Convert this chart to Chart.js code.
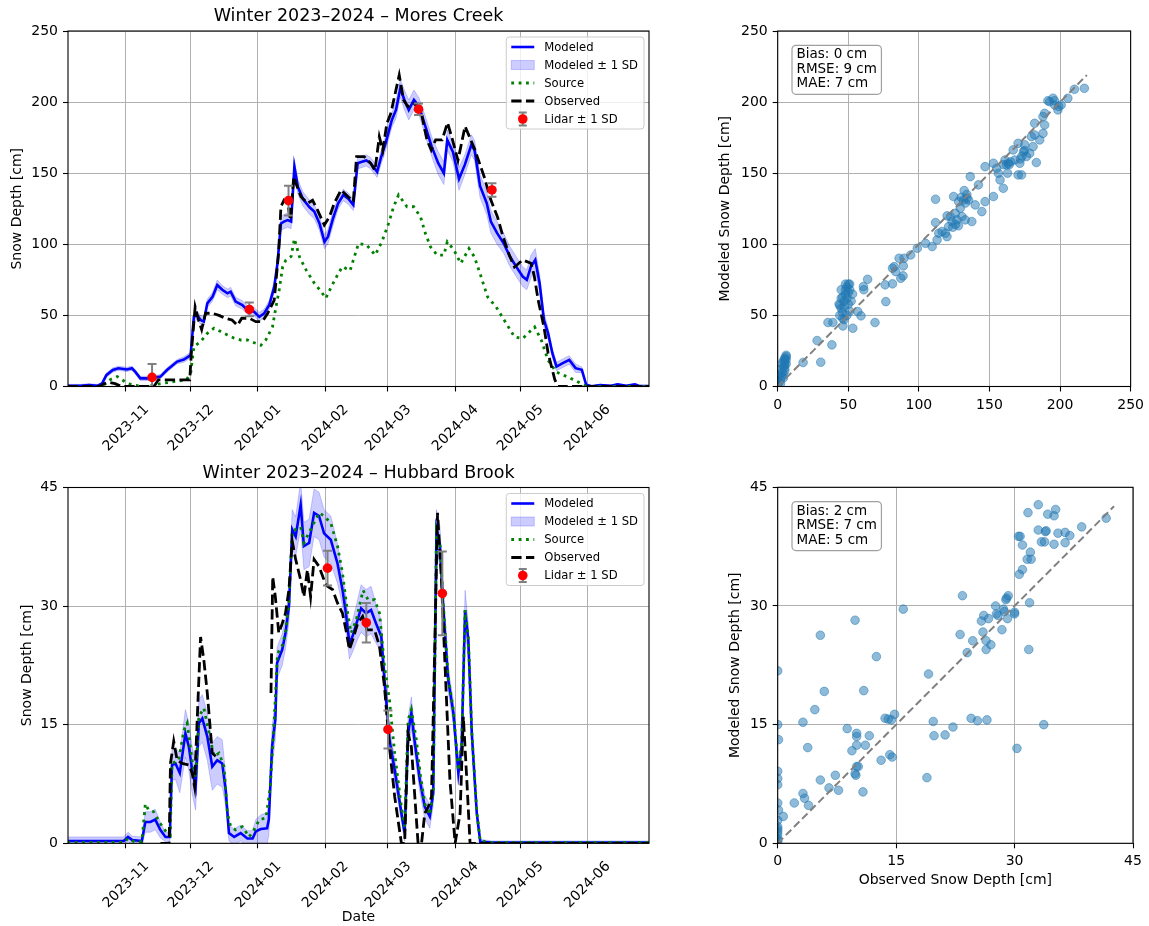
<!DOCTYPE html>
<html>
<head>
<meta charset="utf-8">
<title>Snow depth – Mores Creek / Hubbard Brook</title>
<script src="https://cdn.jsdelivr.net/npm/chart.js@4.4.1/dist/chart.umd.min.js"></script>
<style>
  html, body { margin: 0; padding: 0; background: #fff; }
  #fig { position: relative; width: 1149px; height: 926px; overflow: hidden; }
  #fig canvas { position: absolute; }
</style>
</head>
<body>
<div id="fig">
  <canvas id="moresSeries" width="660" height="460" style="left:0;top:0;width:660px;height:460px"></canvas>
  <canvas id="moresScatter" width="449" height="460" style="left:700px;top:0;width:449px;height:460px"></canvas>
  <canvas id="hubbardSeries" width="660" height="466" style="left:0;top:460px;width:660px;height:466px"></canvas>
  <canvas id="hubbardScatter" width="449" height="440" style="left:700px;top:460px;width:449px;height:440px"></canvas>
</div>
<script>
// x values are days since 2023-10-01
const monthTickDays = [31, 61, 92, 123, 152, 183, 213, 244];
const monthTickLabels = ['2023-11', '2023-12', '2024-01', '2024-02', '2024-03', '2024-04', '2024-05', '2024-06'];
const dateRange = [4.3, 272.5];

// Mores Creek: [day, modeled depth, modeled SD]
const moresModeled = [
  [4,0.5,1],[10,0.5,1],[14,1,1],[18,0.5,1],[20,2,1],[22,8,1.5],[25,11.6,1.5],[27.6,12.8,1.5],[31.5,12,1.5],
  [33.8,12.8,1.5],[35.3,10.4,1.5],[37.7,5.7,1.5],[42.3,5.7,1.5],[47,7,1.5],[50,11.6,1.5],[54.7,17.5,1.5],
  [57.8,19,2],[60.9,22,2],[62.4,49,3],[64,50,3],[65.5,46.8,3],[67,45.6,3],[68.6,58.5,3],[71,63,3],
  [73.2,71.4,3.5],[75.5,68,3],[77.9,65.5,3],[79.4,66.7,3],[81.7,59.7,3],[84.8,57.3,3],[87.1,53.8,3],
  [90.2,52.6,3],[92.6,49,3],[94.9,51.5,3],[97.2,57.3,3],[99.5,70,4],[101,86.6,4],[102.6,114.7,5],
  [104,116,5],[105.7,117,5],[107.3,116,5],[108.8,154.6,5],[110.4,140.5,5],[112.7,132,5],[115.8,126,5],
  [118,123,5],[120.4,114.7,5],[122.7,101.8,5],[124.3,105.4,5],[126.6,118,5],[129,128.8,4],[131.4,134.7,4],
  [133.7,132,4],[136,127.7,4],[138,157,4],[140,158,4],[142,159,4],[144,157,4],[147,151,4],[148.9,161.7,5],
  [150.9,171,5],[153.8,187.4,5],[155.7,194.5,6],[157.7,209.7,6],[159.6,201.5,7],[161.6,194.5,7],
  [164,201.5,7],[166.4,196.8,6],[169.3,182.8,7],[172.2,168.7,7],[175.2,157,8],[177.8,150,8],
  [179.4,173.3,7],[182,165,7],[184.8,146,8],[187.5,156,7],[190.5,170,7],[192,166,7],[194.5,141,8],
  [197.6,128.9,8],[199.5,116,8],[202.4,107.8,8],[205.4,100.7,7],[208.3,91.4,7],[211.2,84.3,7],
  [214.2,77.3,7],[216.1,75,7],[218,84.3,8],[220,89,8],[222,72.6,6],[224,46.9,5],[225.9,37.5,4],
  [227.9,23.4,3],[229.8,14,3],[232.7,16.4,3],[235.7,18.7,3],[238.6,12.9,3],[241.5,11.7,2],[243.5,1.2,1],
  [246,0.2,0.5],[250,1,0.5],[255,0.5,0.5],[258,1.5,0.5],[262,0.5,0.5],[266,1.5,0.5],[268,0.3,0.5],[272.5,0.3,0.5]
];
const moresSource = [
  [4,0],[20,0],[24,5],[27,7],[31,3],[34,1],[40,0],[47,2],[53,3.4],[59,4.6],[61,10],[62.4,28],[65.5,31.5],
  [68.6,37.4],[71.7,41],[74.8,38.6],[77.9,36.2],[81,34],[84,32.7],[87.1,32.7],[90.2,30.8],[93.3,29],
  [95.6,32.7],[98.7,42],[100.3,56],[101.8,68],[103.4,84.3],[104.9,89],[107.3,91.4],[108.8,104],[111.1,91.4],
  [114.2,82],[118,72.6],[121.2,66.7],[123.3,62],[125.8,70],[128.9,79],[131,84.3],[134.5,81.5],[138.4,100.6],
  [142.2,99.5],[146.1,92.4],[149.2,101.8],[152.3,114.7],[154.6,126.4],[156.9,134.7],[160.8,126.4],
  [163.9,126.4],[167,119.4],[169.3,107.6],[171.6,98.3],[174.7,92.4],[177.8,92.4],[179.4,101.8],
  [182.5,95.9],[185.6,86.5],[189.4,97],[191.9,91.2],[195,77.1],[198,63],[201.9,56],[205.7,46.6],
  [210.4,34.9],[214.2,33.7],[217.3,38.4],[219.7,41.9],[222.8,32.5],[225.9,18.4],[229.7,10.2],[235.1,6.6],
  [239.8,3.1],[242.9,0.7],[245,0],[272.5,0]
];
const moresObserved = [
  [4,0],[19,0],[21,2],[23,3],[26,2],[29,0],[35,0],[44,0],[46,4.7],[60.5,4.7],[61.3,25],[63,56],[64.5,47],
  [66,40],[67.8,51.5],[71,51.5],[74,50],[77,48],[80,46.8],[82.5,43],[84.5,48],[88,48],[91,45.6],[94,45.6],
  [96.5,51.5],[99.5,60.8],[101.5,93.7],[102.6,126.5],[104,131],[105.7,128.8],[107,117],[108.5,147.6],
  [109.5,142.9],[111.8,133.6],[114.9,128.8],[117.2,131],[119.5,124],[122.6,113.6],[125,119.4],
  [127.2,128.8],[130.3,138.2],[133.5,133.6],[136,130],[137.5,161.6],[141,161.7],[144,157],[146,152],
  [148,175.7],[149.6,166],[151.5,185],[153.3,192],[157.2,219],[159.2,201.5],[161.2,196.8],[164,199],
  [167.1,194.5],[170,173.5],[172,166.4],[174,173.4],[177,173.4],[179.5,185.5],[181.8,173.4],[184.3,159],
  [187.6,183],[189.6,175.7],[192,167],[196.4,147.5],[199.3,132],[202.6,119],[205.2,105],[208.1,92],
  [210.4,84],[214.2,89],[218,86.7],[219.5,78],[221.3,61],[224,42],[225.9,23.7],[229,4.9],[230.5,0],[272.5,0]
];
// [day, lidar depth, lidar SD]
const moresLidar = [[43.1,6.4,9.5],[88,54.2,4.8],[106.1,130.7,10.4],[166.1,195,4],[200,138.2,4.8]];

// Hubbard Brook: [day, modeled depth, modeled SD]
const hubbardModeled = [
  [4,0.3,0.5],[20,0.3,0.5],[30,0.3,0.5],[32,0.8,0.6],[34,0.4,0.5],[38.4,0.3,0.5],[40,2.7,1.3],[42.3,2.7,1.3],
  [44.6,3,1.3],[46.9,1.7,1],[49.3,0.8,0.6],[51.3,0.8,0.6],[52.3,9.9,2],[53.9,10.1,2],[55.9,8.9,2.5],
  [58.5,13.9,3],[60.1,12.2,3],[61.6,9.3,3],[63.2,7.2,3],[64.7,15.2,3],[66.3,15.8,3],[68.6,13.5,3],
  [70.9,9.7,3],[73.2,10.5,3],[75.5,10.1,3],[77.1,6.7,2],[78.6,1.3,1],[81,0.8,1],[84,1.3,1],[87.1,0.6,1],
  [89.5,0.6,1],[91,1.5,1.5],[93.3,1.8,1.8],[96.2,1.9,2],[97,3,2],[98.5,12.2,2.5],[100,15.6,2.5],
  [100.8,22.8,2],[103.2,24.5,2],[104.7,26.6,2],[106.3,30,2],[107.8,39.7,2.5],[109.4,38.8,2.5],
  [111.7,42.8,3],[113.2,37.6,3],[115.6,38,3],[117.9,41.8,3],[120.2,41.4,3],[122.5,39.2,3],[125.6,38.4,3],
  [128.7,35.4,2.5],[131,32.1,2],[132.6,29.1,2],[134.2,25.3,2],[135.7,26.2,2],[138,28.3,2.5],[139.6,29.7,3],
  [141.9,29.1,3],[144.2,29.5,3],[146.5,27.8,2.5],[148.9,26.2,2],[150.4,20.7,2],[152.7,13.1,1.5],
  [155.1,9.3,1.5],[158.2,3.8,1],[159.7,1.3,1],[161.3,13.9,2],[162.8,16.5,2],[164.4,12.7,1.5],[166.7,8,1.5],
  [169,4.6,1.5],[171.3,3.4,1.5],[172.9,6.3,1.5],[174.4,39.7,2.5],[176,37.6,2.5],[177.5,30,2],[179.8,20.7,1.5],
  [182.2,16.5,1.5],[184.5,8.9,1.5],[186,12.2,1.5],[187.6,29.5,2.5],[189.1,25.7,2],[190.7,13.9,1.5],
  [193,3.8,1],[194.6,0.2,0.3],[200,0.1,0.2],[272.5,0.1,0.2]
];
const hubbardSource = [
  [4,0.1],[30,0.1],[32,0.6],[35,0.2],[38.4,0.2],[40,5],[41.5,4.2],[43.8,4],[46.9,2.5],[50,1.3],[51.5,1],
  [52.3,10.1],[55.4,10.5],[57.8,14.3],[59.3,15.2],[61.6,10.5],[63.2,8.4],[64.7,16],[67,17.1],[69.4,13.9],
  [71.7,11],[74,11.4],[76.3,9.7],[77.9,3.8],[79.4,2.1],[81.7,1.7],[84.8,2.1],[87.9,0.8],[90.2,1.7],
  [92.6,3],[95.7,3.2],[97.7,7.2],[99.5,15.6],[101,24],[103.2,25],[105,27],[106.3,30.5],[107.8,39.5],
  [111.7,40],[113.2,38],[116.3,39.7],[120.2,41.8],[122.5,41.4],[125.6,40.5],[128.7,37.6],[131,34.2],
  [133.4,29.1],[135,26.6],[137.4,28.3],[140.5,32],[142.8,30.8],[145.9,30.8],[148.1,29.1],[150.4,22.4],
  [152.7,18.1],[155.1,11.4],[158.2,4.6],[159.7,2.1],[161.3,15.6],[162.8,16.9],[165.1,13.1],[167,8.5],
  [169,5],[171.3,3.6],[172.9,6.5],[174.4,39.5],[176,38],[177.5,30.5],[179.8,21],[182.2,16.8],[184.5,9.2],
  [186,12.5],[187.6,29.5],[189.1,26],[190.7,14.2],[193,4],[194.6,0.3],[200,0.1],[272.5,0.1]
];
const hubbardObserved = [
  [47,0],[51,0],[51.6,10.1],[53.1,12.9],[54.7,10.5],[57,10.1],[60.1,9.9],[61.6,8.9],[62.7,7.2],[64,16],
  [65.5,26.1],[67,23.2],[68.6,19],[70.9,11.4],[72.5,11],[73,null],[97.9,null],[98,19],[98.8,33.7],
  [100,31.2],[101.6,26.6],[103.2,27.8],[104.7,29.1],[106.3,32.1],[107.8,38.2],[109.4,35.9],[111.7,33.3],
  [113.2,31.2],[114.8,34.6],[116.3,31.2],[117.9,35.9],[120.2,35],[122.5,33.3],[124.1,32.5],[126.4,32.1],
  [128.7,30.4],[131,29.1],[132.6,27],[134.2,24.5],[135.7,25.7],[138,27.8],[140.3,28.7],[142.3,27],
  [145.8,27],[148.1,24.9],[150.4,19.8],[152.7,12.2],[155.1,5.9],[158.2,0],[159.7,0],[161.3,13.9],
  [162.8,12.2],[164.4,5.9],[165.9,0],[167.5,0],[169,3.8],[170.6,4.6],[172.1,5.9],[173.6,24.9],[174.9,41.8],
  [176.7,33.3],[178.3,22.8],[180.6,8],[183,0],[185.3,3.8],[186.8,16],[188.4,8],[189.9,0],[272.5,0]
];
const hubbardLidar = [[124.1,34.8,2.2],[142,27.9,2.5],[152,14.4,2.4],[177.1,31.6,5.3]];

// scatter: [observed, modeled]
const moresPairs = [
  [0,1],[1,3],[2,5],[3,7],[4,9],[5,11],[5,13],[5,15],[5,17],[5,19],[6,21],[6,22],[4,18],[3,16],[2,12],[1,8],
  [0,4],[4,14],[6,16],[5,20],[3,10],[2,2],[6,19],[4,6],
  [18,16.9],[30.5,17.1],[27.9,32.3],[38.4,29.3],[35.6,45],[39.1,45],[46.2,42.6],[53.2,41],
  [43.5,58],[44,57],[45,55],[46,52],[47,60],[48,65],[48,68],[49,70],[50,72],[50,66],[49,62],[47,56],[46,48],
  [49,50],[51,53],[52,60],[51,68],[53,65],[45,68],[48,72],[46,63],[50,58],[44,50],[47,47],[45,62],[51,72],
  [56.7,52.7],[59,49.7],[60.7,70.3],[63.7,75.4],[61,68],[68.9,45],[76.6,59.7],[76.1,71.5],[81.3,72.2],
  [81.3,83.2],[82.5,84.3],[87.2,76.1],[88.8,77.8],[86,90.2],[89.5,90.2],[89,84.8],[83.6,80.8],[94.2,92.5],
  [98.9,97.2],[104.7,100.7],[109.4,98.4],[111.8,131.7],[111.8,115.3],[112.9,103.1],[114.1,107.8],
  [116.4,109],[118.8,107.8],[119.9,105.4],[121.1,112.5],[122.3,119.5],[123.5,116],[124.6,133.6],
  [125.8,121.8],[127,117.2],[128.2,130],[129.3,125.4],[130.5,119.5],[131.7,131.2],[132.1,137.8],[134,132.4],
  [132.8,117.2],[137.5,116],[136.4,147.6],[135.2,131.2],[139.9,127.7],[142.2,141.8],[144.6,123],[146.9,130],
  [146.9,154.6],[152.8,133.6],[152.8,157],[155.1,153.5],[156.3,150],[157.5,145.3],[159.8,139.4],[161,159.3],
  [162.1,155.8],[163.3,157],[162.8,150],[164,156],[165,158],[160,156],[166.8,166.4],[168,159.3],[170.3,148.8],
  [171.5,157],[172.7,148.8],[170.3,171],[174.1,165.2],[175,169.9],[176.2,161.7],[178.5,164],[179.7,175.7],
  [180.9,168.7],[182,176.9],[185.6,173.4],[183.2,157.5],[182,185.1],[187.9,178],[187.9,189.8],[189.1,183.9],
  [191.4,201],[195,202.7],[196.1,198],[198.5,194.5],[200.8,198],[205.5,202.7],[210.2,209],[217.2,209.7],
  [189.1,192.1],[192.6,200.3],[126,114],[128,113],[124,112],[120,120],[130,133],[133,129],[134,135],
  [173,162],[172,160],[175,166],[196,201],[199,197]
];
const hubbardPairs = [
  [0,21.8],[0,15],[0.1,13.1],[0,9.1],[0,8.2],[0,7.4],[0,5.1],[0.1,4.2],[0,2.9],[0,2.1],[0,1.5],[0,1.1],
  [0,0.6],[0,0.2],[0,0.4],[0,1.8],[0.7,3.4],[2.1,5.1],[3.2,6.3],[3.4,5.7],[3.9,4.8],[3.2,15.3],[3.8,12.1],
  [4.7,16.9],[5.4,26.3],[5.4,8],[5.9,19.2],[6.5,7],[7.3,8.6],[7.7,6.7],[8.8,14.5],[9.4,11.7],[9.8,8.8],
  [9.9,8.6],[10,9.7],[10.2,9.7],[9.8,28.2],[10,13.9],[10,13.5],[10,12.4],[10.8,6.5],[10.9,19.3],[11.1,12.4],
  [11.6,13.6],[12.5,23.6],[13.1,10.5],[13.6,15.8],[14,15.7],[14.2,11.2],[14.5,10.9],[14.4,15.6],[14.8,16.3],
  [15.9,29.6],[18.9,8.3],[19.1,21.4],[19.7,15.4],[19.8,13.6],[21.2,13.7],[22.2,14.7],[23.1,26.4],[23.4,31.3],
  [24,24.1],[24.5,15.8],[24.7,25.6],[25.3,15.5],[25.8,28.1],[26,26.7],[26.1,28.8],[26.4,25.6],[26.4,24.5],
  [26.5,15.6],[26.7,28.4],[27,25.1],[27.6,30],[27.7,29],[27.9,28.8],[28.4,27],[28.6,29.6],[28.7,29.3],
  [28.9,30.8],[29,31],[29.2,31.3],[29.1,28.4],[30,29.2],[30,29],[30.3,12],[30.5,38.8],[30.7,38.8],[30.6,34],
  [31,34.6],[31,37.7],[31.7,41.8],[31.6,35.9],[31.8,24.5],[31.9,30.4],[32,36.8],[32.1,35.9],[33,42.8],
  [33,39.6],[33.4,38.1],[33.7,15],[33.8,38.1],[33.9,39.4],[34,39.5],[34.2,41.6],[35,41.4],[35,37.8],
  [35.2,42.2],[35.5,39.2],[36.4,39.3],[36.4,38],[37,38.9],[38.5,40],[41.6,41.1]
];
const moresOneToOne = [0, 219];
const hubbardOneToOne = [0, 42.6];
const moresStats = ['Bias: 0 cm', 'RMSE: 9 cm', 'MAE: 7 cm'];
const hubbardStats = ['Bias: 2 cm', 'RMSE: 7 cm', 'MAE: 5 cm'];

Chart.defaults.font.family = '"DejaVu Sans", "Noto Sans", sans-serif';
Chart.defaults.font.size = 14;
Chart.defaults.color = '#000';
Chart.defaults.animation = false;

const FONT = '"DejaVu Sans", "Noto Sans", sans-serif';
const BLUE_BAND = 'rgba(0,0,255,0.2)';

// matplotlib-style spines on all four sides
const frameBox = {
  id: 'frameBox',
  afterDatasetsDraw(chart) {
    const { ctx, chartArea: a } = chart;
    ctx.save();
    ctx.strokeStyle = '#000';
    ctx.lineWidth = 1.1;
    ctx.strokeRect(a.left, a.top, a.right - a.left, a.bottom - a.top);
    ctx.restore();
  }
};

// grey error bars with caps, drawn just under the lidar points
const errorBars = {
  id: 'errorBars',
  beforeDatasetDraw(chart, args) {
    const ds = chart.data.datasets[args.index];
    if (!ds.errors) return;
    const { ctx, chartArea: a, scales: { x, y } } = chart;
    ctx.save();
    ctx.beginPath();
    ctx.rect(a.left, a.top, a.right - a.left, a.bottom - a.top);
    ctx.clip();
    ctx.strokeStyle = '#808080';
    ctx.lineWidth = 2;
    ds.data.forEach((p, i) => {
      const px = x.getPixelForValue(p.x);
      const top = y.getPixelForValue(p.y + ds.errors[i]);
      const bot = y.getPixelForValue(p.y - ds.errors[i]);
      ctx.beginPath();
      ctx.moveTo(px, top); ctx.lineTo(px, bot);
      ctx.moveTo(px - 4.5, top); ctx.lineTo(px + 4.5, top);
      ctx.moveTo(px - 4.5, bot); ctx.lineTo(px + 4.5, bot);
      ctx.stroke();
    });
    ctx.restore();
  }
};

// legend box in the upper right corner of the axes
const boxLegend = {
  id: 'boxLegend',
  afterDraw(chart, args, opts) {
    if (!opts.items) return;
    const { ctx, chartArea: a } = chart;
    ctx.save();
    ctx.font = '11.6px ' + FONT;
    const textW = Math.max(...opts.items.map(it => ctx.measureText(it.label).width));
    const pad = 5, handle = 23, gap = 10, row = 18;
    const w = pad + handle + gap + textW + pad + 1;
    const h = opts.items.length * row + 2;
    const left = a.right - 5 - w, top = a.top + 6;
    ctx.fillStyle = 'rgba(255,255,255,0.8)';
    ctx.strokeStyle = '#cccccc';
    ctx.lineWidth = 1;
    ctx.beginPath();
    ctx.roundRect(left, top, w, h, 3);
    ctx.fill();
    ctx.stroke();
    opts.items.forEach((it, i) => {
      const cy = top + 10 + i * row;
      const hx = left + pad;
      if (it.kind === 'line') {
        ctx.save();
        ctx.strokeStyle = it.color;
        ctx.lineWidth = it.width;
        ctx.setLineDash(it.dash || []);
        ctx.beginPath();
        ctx.moveTo(hx, cy); ctx.lineTo(hx + handle, cy);
        ctx.stroke();
        ctx.restore();
      } else if (it.kind === 'band') {
        ctx.fillStyle = it.color;
        ctx.strokeStyle = it.color;
        ctx.fillRect(hx, cy - 4.5, handle, 9);
        ctx.strokeRect(hx, cy - 4.5, handle, 9);
      } else if (it.kind === 'lidar') {
        const mx = hx + handle / 2;
        ctx.strokeStyle = '#808080';
        ctx.lineWidth = 2;
        ctx.beginPath();
        ctx.moveTo(mx, cy - 6.5); ctx.lineTo(mx, cy + 6.5);
        ctx.moveTo(mx - 4, cy - 6.5); ctx.lineTo(mx + 4, cy - 6.5);
        ctx.moveTo(mx - 4, cy + 6.5); ctx.lineTo(mx + 4, cy + 6.5);
        ctx.stroke();
        ctx.fillStyle = it.color;
        ctx.beginPath();
        ctx.arc(mx, cy, 4.8, 0, Math.PI * 2);
        ctx.fill();
      }
      ctx.fillStyle = '#000';
      ctx.textAlign = 'left';
      ctx.textBaseline = 'middle';
      ctx.fillText(it.label, hx + handle + gap, cy + 0.5);
    });
    ctx.restore();
  }
};

// rounded text box with error statistics
const statsBox = {
  id: 'statsBox',
  afterDraw(chart, args, opts) {
    if (!opts.lines) return;
    const { ctx, chartArea: a } = chart;
    ctx.save();
    ctx.font = '13.5px ' + FONT;
    const textW = Math.max(...opts.lines.map(s => ctx.measureText(s).width));
    const left = a.left + 14.3, top = a.top + 14.3;
    const w = textW + 9, h = 49;
    ctx.fillStyle = 'rgba(255,255,255,0.8)';
    ctx.strokeStyle = '#a0a0a0';
    ctx.lineWidth = 1.2;
    ctx.beginPath();
    ctx.roundRect(left, top, w, h, 4);
    ctx.fill();
    ctx.stroke();
    ctx.fillStyle = '#000';
    ctx.textAlign = 'left';
    ctx.textBaseline = 'middle';
    opts.lines.forEach((s, i) => ctx.fillText(s, left + 4.5, top + 9.5 + i * 14.5));
    ctx.restore();
  }
};

function gridStyle() {
  return { color: '#b0b0b0', lineWidth: 1, tickLength: 5, tickColor: '#000', tickWidth: 1.1 };
}

function yAxis(max, step, title, width, titlePad) {
  return {
    type: 'linear', min: 0, max: max,
    ticks: { stepSize: step, padding: 5, font: { size: 14 }, color: '#000' },
    grid: gridStyle(),
    border: { display: false },
    title: { display: true, text: title, color: '#000', font: { size: 14 }, padding: { top: titlePad, bottom: 0 } },
    afterFit: s => { s.width = width; }
  };
}

const pts = arr => arr.map(p => ({ x: p[0], y: p[1] }));

function seriesChart(id, cfg) {
  const datasets = [
    { label: 'Lidar ± 1 SD', data: pts(cfg.lidar), errors: cfg.lidar.map(p => p[2]), showLine: false,
      pointRadius: 4.8, pointBackgroundColor: '#ff0000', pointBorderColor: '#ff0000', pointBorderWidth: 0, order: 0, clip: 0 },
    { label: 'Observed', data: pts(cfg.observed), borderColor: '#000', borderWidth: 2.8, borderDash: [10.3, 4.4],
      pointRadius: 0, order: 1, clip: 0, spanGaps: false },
    { label: 'Source', data: pts(cfg.source), borderColor: '#008000', borderWidth: 2.8, borderDash: [2.8, 4.6],
      pointRadius: 0, order: 2, clip: 0 },
    { label: 'Modeled', data: pts(cfg.modeled), borderColor: '#0000ff', borderWidth: 2.6,
      pointRadius: 0, order: 3, clip: 0 },
    { label: 'Modeled ± 1 SD', data: cfg.modeled.map(p => ({ x: p[0], y: p[1] + p[2] })), borderColor: BLUE_BAND,
      borderWidth: 1, backgroundColor: BLUE_BAND, fill: '+1', pointRadius: 0, order: 4, clip: 0 },
    { label: 'lower', data: cfg.modeled.map(p => ({ x: p[0], y: p[1] - p[2] })), borderColor: BLUE_BAND,
      borderWidth: 1, fill: false, pointRadius: 0, order: 5, clip: 0 }
  ];
  return new Chart(document.getElementById(id), {
    type: 'line',
    data: { datasets },
    plugins: [frameBox, errorBars, boxLegend],
    options: {
      responsive: false, devicePixelRatio: 1, events: [],
      layout: { padding: { left: 0, right: 11, top: 0, bottom: 0 } },
      elements: { line: { tension: 0, borderCapStyle: 'butt' } },
      scales: {
        x: {
          type: 'linear', min: dateRange[0], max: dateRange[1],
          afterBuildTicks: s => { s.ticks = monthTickDays.map(v => ({ value: v })); },
          afterFit: s => { s.height = cfg.xHeight; },
          ticks: { autoSkip: false, minRotation: 45, maxRotation: 45, labelOffset: 21, padding: 10,
                   font: { size: 14 }, color: '#000', callback: (v, i) => monthTickLabels[i] },
          grid: gridStyle(),
          border: { display: false },
          title: { display: !!cfg.xTitle, text: cfg.xTitle || '', color: '#000', font: { size: 14 },
                   padding: { top: 0, bottom: 0 } }
        },
        y: yAxis(cfg.yMax, cfg.yStep, 'Snow Depth [cm]', 68, cfg.yTitlePad)
      },
      plugins: {
        legend: { display: false },
        tooltip: { enabled: false },
        title: { display: true, text: cfg.title, fullSize: false, color: '#000',
                 font: { size: 17.5, weight: 'normal' }, padding: cfg.titlePad },
        boxLegend: { items: [
          { label: 'Modeled', kind: 'line', color: '#0000ff', width: 2.6 },
          { label: 'Modeled ± 1 SD', kind: 'band', color: BLUE_BAND },
          { label: 'Source', kind: 'line', color: '#008000', width: 2.8, dash: [2.8, 4.6] },
          { label: 'Observed', kind: 'line', color: '#000', width: 2.8, dash: [10.3, 4.4] },
          { label: 'Lidar ± 1 SD', kind: 'lidar', color: '#ff0000' }
        ] }
      }
    }
  });
}

function scatterChart(id, cfg) {
  return new Chart(document.getElementById(id), {
    type: 'scatter',
    data: { datasets: [
      { label: '1:1', data: cfg.oneToOne.map(v => ({ x: v, y: v })), showLine: true, borderColor: '#808080',
        borderWidth: 2, borderDash: [7.7, 3.8], pointRadius: 0, order: 0, clip: 0 },
      { label: 'pairs', data: pts(cfg.pairs), pointRadius: 4.3, pointBorderWidth: 1,
        pointBackgroundColor: 'rgba(31,119,180,0.5)', pointBorderColor: 'rgba(31,119,180,0.5)', order: 1, clip: 0 }
    ] },
    plugins: [frameBox, statsBox],
    options: {
      responsive: false, devicePixelRatio: 1, events: [],
      layout: { padding: { left: 0, right: 16, top: cfg.top, bottom: 0 } },
      scales: {
        x: {
          type: 'linear', min: 0, max: cfg.max,
          ticks: { stepSize: cfg.step, maxRotation: 0, padding: 5, font: { size: 14 }, color: '#000' },
          grid: gridStyle(),
          border: { display: false },
          afterFit: s => { s.height = cfg.xHeight; },
          title: { display: !!cfg.xTitle, text: cfg.xTitle || '', color: '#000', font: { size: 14 },
                   padding: { top: 0, bottom: 11.6 } }
        },
        y: yAxis(cfg.max, cfg.step, 'Modeled Snow Depth [cm]', 77.7, cfg.yTitlePad)
      },
      plugins: {
        legend: { display: false },
        tooltip: { enabled: false },
        statsBox: { lines: cfg.stats }
      }
    }
  });
}

seriesChart('moresSeries', {
  title: 'Winter 2023–2024 – Mores Creek',
  modeled: moresModeled, source: moresSource, observed: moresObserved, lidar: moresLidar,
  yMax: 250, yStep: 50, yTitlePad: 9, xHeight: 73.5,
  titlePad: { top: 5.6, bottom: 4.4 }
});
seriesChart('hubbardSeries', {
  title: 'Winter 2023–2024 – Hubbard Brook',
  modeled: hubbardModeled, source: hubbardSource, observed: hubbardObserved, lidar: hubbardLidar,
  yMax: 45, yStep: 15, yTitlePad: 18.6, xHeight: 82.7, xTitle: 'Date',
  titlePad: { top: 2.7, bottom: 3.8 }
});
scatterChart('moresScatter', {
  pairs: moresPairs, oneToOne: moresOneToOne, stats: moresStats,
  max: 250, step: 50, top: 31, xHeight: 73.5, yTitlePad: 17.1
});
scatterChart('hubbardScatter', {
  pairs: hubbardPairs, oneToOne: hubbardOneToOne, stats: hubbardStats,
  max: 45, step: 15, top: 27.3, xHeight: 56.7, yTitlePad: 27.1, xTitle: 'Observed Snow Depth [cm]'
});
</script>
</body>
</html>
